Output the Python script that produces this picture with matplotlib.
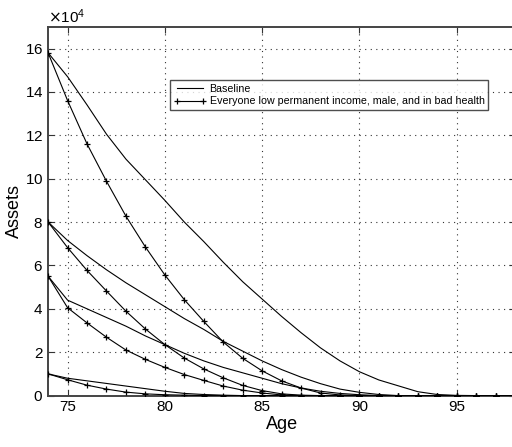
import matplotlib
matplotlib.use("Agg")
import matplotlib.pyplot as plt
from matplotlib.ticker import MultipleLocator, ScalarFormatter

plt.rcParams['font.family'] = ['Liberation Sans', 'DejaVu Sans']

# ages on the x axis
age = list(range(74, 99))

# assets in units of 10^4
base_16 = [15.8, 14.7, 13.4, 12.05, 10.9, 9.95, 9.0, 8.0, 7.1, 6.15, 5.25, 4.45,
           3.65, 2.9, 2.2, 1.6, 1.1, 0.72, 0.45, 0.18, 0.05, 0.01, 0, 0, 0]
base_8 = [8.0, 7.15, 6.45, 5.8, 5.2, 4.65, 4.1, 3.55, 3.05, 2.5, 2.05, 1.6,
          1.2, 0.85, 0.55, 0.3, 0.15, 0.05, 0, 0, 0, 0, 0, 0, 0]
base_55 = [5.5, 4.4, 4.0, 3.6, 3.2, 2.75, 2.35, 1.95, 1.6, 1.3, 1.05, 0.8,
           0.55, 0.35, 0.2, 0.1, 0.04, 0, 0, 0, 0, 0, 0, 0, 0]
base_1 = [1.0, 0.8, 0.68, 0.56, 0.44, 0.32, 0.2, 0.1, 0.05, 0.02, 0, 0,
          0, 0, 0, 0, 0, 0, 0, 0, 0, 0, 0, 0, 0]

low_16 = [15.8, 13.6, 11.6, 9.88, 8.27, 6.85, 5.56, 4.42, 3.42, 2.47, 1.72, 1.14,
          0.68, 0.35, 0.12, 0.03, 0, 0, 0, 0, 0, 0, 0, 0, 0]
low_8 = [8.0, 6.82, 5.77, 4.82, 3.89, 3.07, 2.35, 1.73, 1.23, 0.82, 0.47, 0.23,
         0.08, 0.02, 0, 0, 0, 0, 0, 0, 0, 0, 0, 0, 0]
low_55 = [5.5, 4.05, 3.35, 2.69, 2.1, 1.67, 1.3, 0.97, 0.7, 0.44, 0.25, 0.12,
          0.03, 0, 0, 0, 0, 0, 0, 0, 0, 0, 0, 0, 0]
low_1 = [1.0, 0.73, 0.48, 0.3, 0.16, 0.08, 0.04, 0.02, 0, 0, 0, 0,
         0, 0, 0, 0, 0, 0, 0, 0, 0, 0, 0, 0, 0]

baseline = [base_16, base_8, base_55, base_1]
lowinc = [low_16, low_8, low_55, low_1]

fig = plt.figure(figsize=(5.12, 4.47), dpi=100)
ax = fig.add_axes([0.094, 0.115, 0.912, 0.825])

for i, s in enumerate(baseline):
    ax.plot(age, [v * 1e4 for v in s], color='black', linewidth=0.8,
            label='Baseline' if i == 0 else None, zorder=3)
for i, s in enumerate(lowinc):
    ax.plot(age, [v * 1e4 for v in s], color='black', linewidth=0.8,
            marker='+', markersize=5, markeredgewidth=0.9,
            label='Everyone low permanent income, male, and in bad health' if i == 0 else None,
            zorder=3)

ax.set_xlim(74, 98)
ax.set_ylim(0, 17e4)
ax.xaxis.set_major_locator(MultipleLocator(5))
ax.yaxis.set_major_locator(MultipleLocator(2e4))
fmt = ScalarFormatter(useMathText=True)
fmt.set_powerlimits((4, 4))
ax.yaxis.set_major_formatter(fmt)
ax.yaxis.get_offset_text().set_fontsize(11)

ax.grid(True, linestyle=(0, (1, 4)), color='#333333', linewidth=0.8)
ax.tick_params(direction='in', top=True, right=True, length=4, labelsize=11,
               color='#333333')
for sp in ax.spines.values():
    sp.set_linewidth(1.4)
    sp.set_color('#444444')
ax.spines['right'].set_visible(False)

ax.set_xlabel('Age', fontsize=13, labelpad=1)
ax.set_ylabel('Assets', fontsize=13, labelpad=1)

leg = ax.legend(loc='upper left', bbox_to_anchor=(0.262, 0.856), fontsize=7.7,
                frameon=True, fancybox=False, edgecolor='#222222', numpoints=2,
                handlelength=3.0, borderpad=0.35, labelspacing=0.25,
                handletextpad=0.3, borderaxespad=0)
leg.get_frame().set_linewidth(1.0)

fig.savefig('out.png', dpi=100)
